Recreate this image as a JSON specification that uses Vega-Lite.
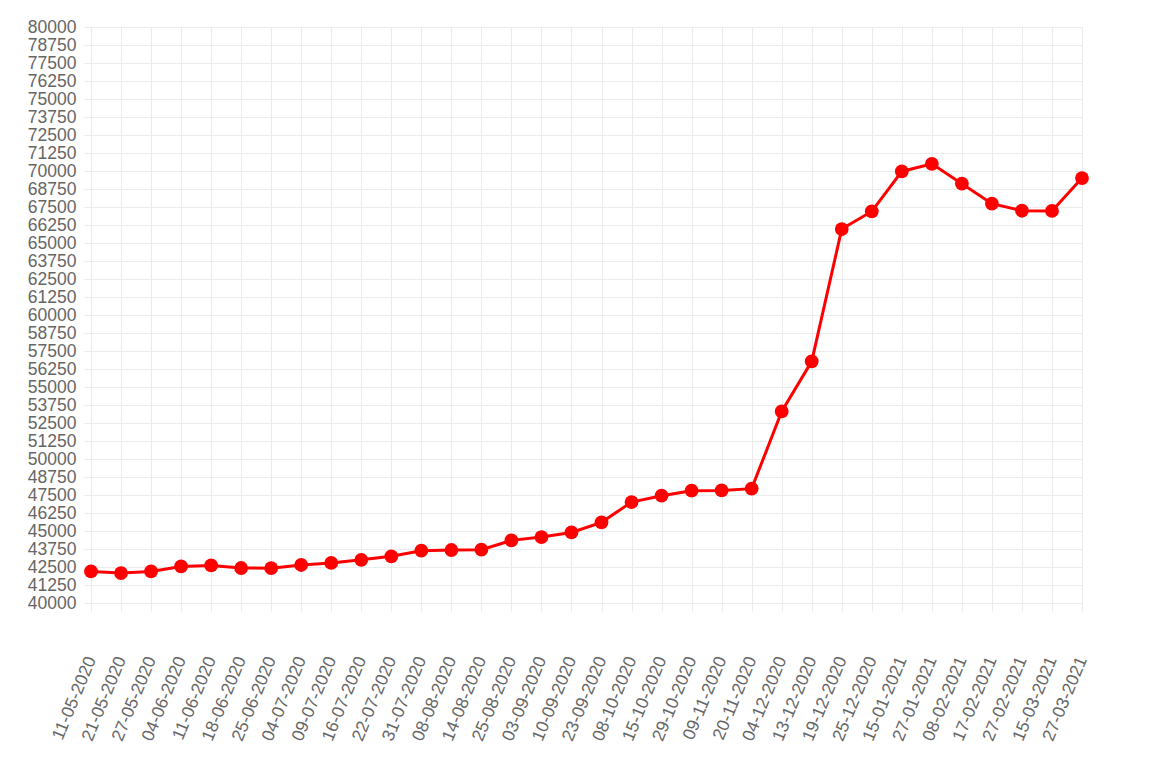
{
  "$schema": "https://vega.github.io/schema/vega-lite/v6.json",
  "autosize": {"type": "none"},
  "padding": {"left": 91, "top": 27, "right": 79, "bottom": 169},
  "width": 991,
  "height": 576,
  "background": "white",
  "config": {"view": {"stroke": null}},
  "data": {"values": [
    {"date": "11-05-2020", "price": 42190},
    {"date": "21-05-2020", "price": 42080},
    {"date": "27-05-2020", "price": 42190},
    {"date": "04-06-2020", "price": 42540},
    {"date": "11-06-2020", "price": 42610},
    {"date": "18-06-2020", "price": 42430},
    {"date": "25-06-2020", "price": 42420},
    {"date": "04-07-2020", "price": 42640},
    {"date": "09-07-2020", "price": 42780},
    {"date": "16-07-2020", "price": 43000},
    {"date": "22-07-2020", "price": 43240},
    {"date": "31-07-2020", "price": 43630},
    {"date": "08-08-2020", "price": 43680},
    {"date": "14-08-2020", "price": 43700},
    {"date": "25-08-2020", "price": 44350},
    {"date": "03-09-2020", "price": 44580},
    {"date": "10-09-2020", "price": 44900},
    {"date": "23-09-2020", "price": 45600},
    {"date": "08-10-2020", "price": 47010},
    {"date": "15-10-2020", "price": 47450},
    {"date": "29-10-2020", "price": 47800},
    {"date": "09-11-2020", "price": 47820},
    {"date": "20-11-2020", "price": 47940},
    {"date": "04-12-2020", "price": 53300},
    {"date": "13-12-2020", "price": 56780},
    {"date": "19-12-2020", "price": 65970},
    {"date": "25-12-2020", "price": 67190},
    {"date": "15-01-2021", "price": 69970},
    {"date": "27-01-2021", "price": 70500},
    {"date": "08-02-2021", "price": 69120},
    {"date": "17-02-2021", "price": 67730},
    {"date": "27-02-2021", "price": 67240},
    {"date": "15-03-2021", "price": 67230},
    {"date": "27-03-2021", "price": 69510}
  ]},
  "encoding": {
    "x": {
      "field": "date", "type": "ordinal", "sort": null,
      "scale": {"type": "point", "padding": 0},
      "axis": {
        "title": null, "domain": false, "grid": true, "gridColor": "#ebebeb",
        "ticks": true, "tickSize": 8, "tickColor": "#ebebeb",
        "labelAngle": -67.5, "labelAlign": "right", "labelBaseline": "middle",
        "labelPadding": 46, "labelFont": "Liberation Sans", "labelFontSize": 17.5,
        "labelColor": "#666666", "labelOverlap": false
      }
    },
    "y": {
      "field": "price", "type": "quantitative",
      "scale": {"domain": [40000, 80000], "nice": false, "zero": false},
      "axis": {
        "title": null, "domain": false, "grid": true, "gridColor": "#ebebeb",
        "values": [40000, 41250, 42500, 43750, 45000, 46250, 47500, 48750, 50000, 51250, 52500, 53750, 55000, 56250, 57500, 58750, 60000, 61250, 62500, 63750, 65000, 66250, 67500, 68750, 70000, 71250, 72500, 73750, 75000, 76250, 77500, 78750, 80000],
        "format": "d", "ticks": true, "tickSize": 7, "tickColor": "#ebebeb",
        "labelPadding": 8, "labelFont": "Liberation Sans", "labelFontSize": 17.5,
        "labelColor": "#666666", "labelOverlap": false
      }
    }
  },
  "layer": [
    {"mark": {"type": "line", "color": "#ff0000", "strokeWidth": 3}},
    {"mark": {"type": "point", "filled": true, "color": "#ff0000", "opacity": 1, "size": 190}}
  ]
}
